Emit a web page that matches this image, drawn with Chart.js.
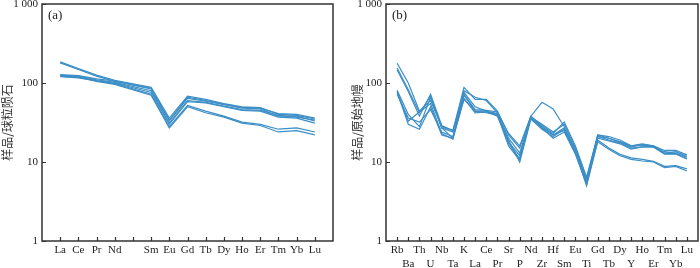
<!DOCTYPE html>
<html>
<head>
<meta charset="utf-8">
<script src="https://cdn.jsdelivr.net/npm/chart.js@4.4.1/dist/chart.umd.min.js"></script>
<style>
  body { margin: 0; background: #fff; overflow: hidden; width: 700px; height: 268px; position: relative; }
  canvas { position: absolute; top: -10px; }
</style>
</head>
<body>
<canvas id="reeChart" width="350" height="278" style="left:0"></canvas>
<canvas id="spiderChart" width="350" height="278" style="left:350px"></canvas>
<script>
// chondrite-normalised REE (Pm left empty)
const reeLabels = ['La', 'Ce', 'Pr', 'Nd', '', 'Sm', 'Eu', 'Gd', 'Tb', 'Dy', 'Ho', 'Er', 'Tm', 'Yb', 'Lu'];
const ree1 = [185, 152, 126, 108, null, 88, 36, 68, 62, 55, 50, 49, 40, 39, 35];
const ree2 = [180, 148, 122, 105, null, 84, 33, 64, 59, 53, 48, 47, 38, 38, 33];
const ree3 = [128, 124, 113, 106, null, 86, 34, 66, 60, 54, 49, 48, 41, 40, 36];
const ree4 = [124, 122, 110, 102, null, 80, 31, 60, 57, 51, 46, 45, 39, 37, 34];
const ree5 = [122, 118, 107, 100, null, 76, 30, 58, 56, 50, 45, 44, 37, 36, 31];
const ree6 = [120, 116, 106, 98, null, 72, 28, 52, 44, 38, 32, 30, 26, 27, 24];
const ree7 = [126, 119, 105, 96, null, 70, 27, 50, 42, 37, 31, 29, 24, 25, 22];

// primitive-mantle-normalised trace elements
const spiderLabels = ['Rb', 'Ba', 'Th', 'U', 'Nb', 'Ta', 'K', 'La', 'Ce', 'Pr', 'Sr', 'P', 'Nd', 'Zr',
  'Hf', 'Sm', 'Eu', 'Ti', 'Gd', 'Tb', 'Dy', 'Y', 'Ho', 'Er', 'Tm', 'Yb', 'Lu'];
const spd1 = [178, 100, 44, 60, 28, 25, 88, 62, 62, 44, 22, 15, 38, 57, 47, 28, 14, 5.6, 22, 21, 19, 16, 17, 16, 14, 14, 12.3];
const spd2 = [155, 82, 42, 68, 27, 24, 80, 66, 60, 42, 20, 13, 37, 30, 24, 30, 15, 6.2, 21, 20, 18, 15.5, 16.5, 16, 13, 13.5, 11.8];
const spd3 = [146, 78, 38, 72, 29, 25, 72, 46, 45, 43, 23, 16, 38, 29, 23, 32, 16, 6.4, 22, 20, 18, 16, 16.5, 15.5, 13.5, 13, 11.5];
const spd4 = [81, 40, 28, 66, 27, 20, 70, 44, 44, 41, 18, 12, 37, 28, 22, 27, 14, 5.8, 21, 19, 17.5, 15, 15.5, 15.5, 12.8, 12.8, 11];
const spd5 = [78, 33, 43, 55, 23, 19.5, 64, 42, 43, 40, 17, 11, 36, 27, 22, 25, 13, 5.2, 20, 18.5, 17, 14.6, 15.5, 15.5, 12.6, 12.6, 10.9];
const spd6 = [76, 30, 26, 50, 22, 20, 62, 44, 42, 39, 16, 10.5, 37, 27, 20, 24, 12.5, 5.3, 19, 15, 12.5, 11.3, 10.8, 10.2, 8.8, 9.0, 8.2];
const spd7 = [72, 36, 32, 46, 24, 21, 76, 50, 44, 38, 19, 10, 35, 26, 21, 26, 13.5, 5.0, 18, 14.5, 12, 10.8, 10.3, 10, 8.5, 8.8, 7.7];

const yTicks = [1, 10, 100, 1000];

const lineColor = '#3b8ec6';
const axisColor = '#333';
const serif = '"Liberation Serif", "Times New Roman", serif';

// frame, inward tick marks and the panel tag
const frameTicks = {
  id: 'frameTicks',
  afterDraw(chart, args, opts) {
    const { ctx, chartArea: a, scales: { x, y } } = chart;
    ctx.save();
    ctx.strokeStyle = axisColor;
    ctx.lineWidth = 1.2;
    ctx.beginPath();
    x.ticks.forEach(t => {
      const px = Math.round(x.getPixelForValue(t.value)) + 0.5;
      ctx.moveTo(px, a.bottom);
      ctx.lineTo(px, a.bottom - 4);
    });
    y.ticks.forEach(t => {
      const py = Math.round(y.getPixelForValue(t.value)) + 0.5;
      ctx.moveTo(a.left, py);
      ctx.lineTo(a.left + 4, py);
    });
    ctx.stroke();
    ctx.lineWidth = 1.5;
    ctx.strokeRect(a.left, a.top, a.right - a.left, a.bottom - a.top);
    ctx.fillStyle = '#222';
    ctx.font = '13px ' + serif;
    ctx.fillText(opts.tag, a.left + 6, a.top + 15);
    ctx.restore();
  }
};

function makeChart(id, labels, series, yTitle, tag, axisWidth, padRight, twoRows) {
  const datasets = series.map(s => ({
    data: s.map((v, i) => ({ x: i + 1, y: v })),
    borderColor: lineColor,
    borderWidth: 1.2,
    pointRadius: 0,
    fill: false,
    spanGaps: true,
    tension: 0
  }));

  return new Chart(document.getElementById(id), {
    type: 'line',
    data: { datasets },
    options: {
      responsive: false,
      animation: false,
      layout: { padding: { top: 14, right: padRight, bottom: 0, left: 0 } },
      plugins: {
        legend: { display: false },
        tooltip: { enabled: false },
        frameTicks: { tag }
      },
      scales: {
        x: {
          type: 'linear',
          min: 0,
          max: labels.length + 1,
          grid: { display: false, drawTicks: false },
          border: { display: false },
          afterBuildTicks: scale => { scale.ticks = labels.map((l, i) => ({ value: i + 1 })); },
          afterFit: scale => { scale.height = 27; },
          ticks: {
            autoSkip: false,
            maxRotation: 0,
            padding: 3,
            color: '#222',
            font: { family: serif, size: 11 },
            callback: (v) => {
              const l = labels[v - 1];
              if (!twoRows) return l;
              return (v - 1) % 2 === 0 ? l : ['', l];
            }
          }
        },
        y: {
          type: 'logarithmic',
          min: 1,
          max: 1000,
          grid: { display: false, drawTicks: false },
          border: { display: false },
          afterBuildTicks: scale => { scale.ticks = yTicks.map(v => ({ value: v })); },
          afterFit: scale => { scale.width = axisWidth; },
          title: {
            display: true,
            text: yTitle,
            color: '#333',
            padding: 0,
            font: { family: '"Noto Sans CJK SC", sans-serif', size: 12 }
          },
          ticks: {
            padding: 4,
            color: '#222',
            font: { family: serif, size: 11 },
            callback: v => v === 1000 ? '1 000' : String(v)
          }
        }
      }
    },
    plugins: [frameTicks]
  });
}

makeChart('reeChart', reeLabels, [ree1, ree2, ree3, ree4, ree5, ree6, ree7],
  '样品/球粒陨石', '(a)', 42, 17, false);
makeChart('spiderChart', spiderLabels, [spd1, spd2, spd3, spd4, spd5, spd6, spd7],
  '样品/原始地幔', '(b)', 36, 2, true);
</script>
</body>
</html>
